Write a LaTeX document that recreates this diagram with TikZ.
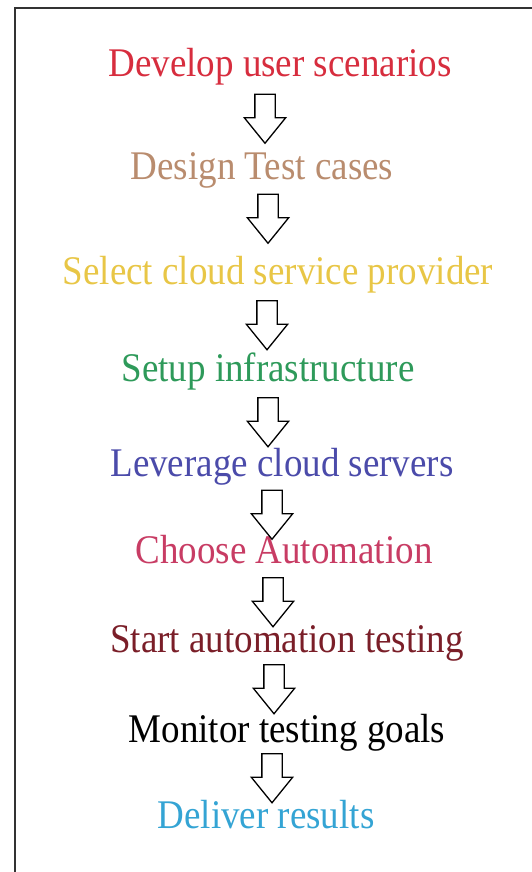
\documentclass[tikz,border=0pt]{standalone}
\usepackage{fontspec}
\setmainfont{Liberation Serif}
\usetikzlibrary{shapes.arrows}
\definecolor{cRed}{RGB}{215,45,62}
\definecolor{cTan}{RGB}{185,140,110}
\definecolor{cGold}{RGB}{232,198,70}
\definecolor{cGreen}{RGB}{46,154,90}
\definecolor{cIndigo}{RGB}{75,75,170}
\definecolor{cRose}{RGB}{200,60,100}
\definecolor{cMaroon}{RGB}{122,30,40}
\definecolor{cSky}{RGB}{52,164,212}
\definecolor{frameGray}{RGB}{50,50,50}
% slightly tall lettering for the step labels
\newcommand{\steplabel}[1]{\scalebox{1}[1.1]{#1}}
\tikzset{
  stage/.style={anchor=base, inner sep=0pt, font=\fontsize{37}{40}\selectfont},
  downarrow/.style={single arrow, draw=black, fill=white, line width=1.3pt,
    rotate=-90, inner xsep=0pt, inner ysep=9.5pt, minimum height=49pt,
    single arrow head extend=10.5pt, single arrow tip angle=78},
}
\begin{document}
\begin{tikzpicture}[x=1pt, y=-1pt]
  \useasboundingbox (0,0) rectangle (532,872);
  % open frame: top and left edges only
  \draw[frameGray, line width=2pt] (14.5,872) -- (14.5,8) -- (532,8);

  % process steps
  \node[stage, text=cRed]    (s1) at (280,77)  {\steplabel{Develop user scenarios}};
  \node[stage, text=cTan]    (s2) at (262,179) {\steplabel{Design Test cases}};
  \node[stage, text=cGold]   (s3) at (278,284) {\steplabel{Select cloud service provider}};
  \node[stage, text=cGreen]  (s4) at (268,381) {\steplabel{Setup infrastructure}};
  \node[stage, text=cIndigo] (s5) at (282,476) {\steplabel{Leverage cloud servers}};
  \node[stage, text=cRose]   (s6) at (284,563) {\steplabel{Choose Automation}};
  \node[stage, text=cMaroon] (s7) at (287,652) {\steplabel{Start automation testing}};
  \node[stage, text=black]   (s8) at (287,742) {\steplabel{Monitor testing goals}};
  \node[stage, text=cSky]    (s9) at (266,828) {\steplabel{Deliver results}};

  % block arrows between consecutive steps
  \node[downarrow] (a1) at (265,112.5) {};
  \node[downarrow] (a2) at (268,212.5) {};
  \node[downarrow] (a3) at (267,319) {};
  \node[downarrow] (a4) at (268,416) {};
  \node[downarrow] (a5) at (272,508.5) {};
  \node[downarrow] (a6) at (273,596) {};
  \node[downarrow] (a7) at (274,683) {};
  \node[downarrow] (a8) at (272,772) {};
\end{tikzpicture}
\end{document}
